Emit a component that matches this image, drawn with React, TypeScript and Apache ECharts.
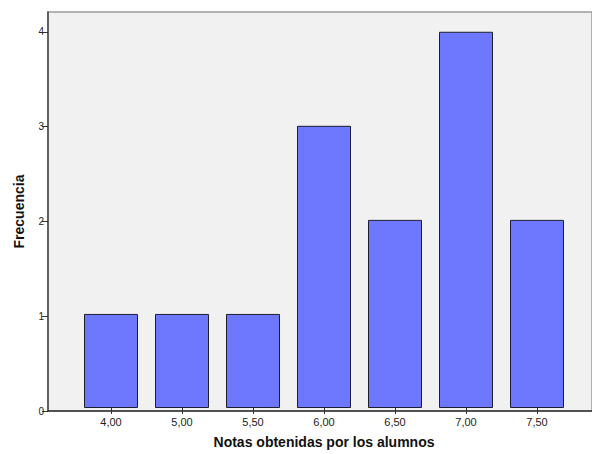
import React, { useEffect, useRef } from "react";
import * as echarts from "echarts";

const categories = ["4,00", "5,00", "5,50", "6,00", "6,50", "7,00", "7,50"];
const frequencies = [1, 1, 1, 3, 2, 4, 2];
const yTicks = [0, 1, 2, 3, 4];

export default function App() {
  const ref = useRef<HTMLDivElement>(null);
  useEffect(() => {
    if (!ref.current) return;
    const chart = echarts.init(ref.current, null, { renderer: "svg" });
    const font = "'Liberation Sans', Arial, sans-serif";
    chart.setOption({
      animation: false,
      backgroundColor: "#ffffff",
      textStyle: { fontFamily: font },
      grid: [
        {
          left: 48,
          right: 0,
          top: 12,
          bottom: 43,
          show: true,
          backgroundColor: "#f1f1f1",
          borderColor: "#9a9a9a",
          borderWidth: 1.5,
        },
        { left: 75.5, right: 19.5, top: 12, bottom: 43 },
      ],
      xAxis: [
        {
          type: "value",
          gridIndex: 0,
          min: 0,
          max: 1,
          axisLine: { show: true, lineStyle: { color: "#333", width: 1.5 } },
          axisTick: { show: false },
          axisLabel: { show: false },
          splitLine: { show: false },
        },
        {
          type: "category",
          gridIndex: 1,
          data: categories,
          axisLine: { show: false },
          axisTick: { show: true, alignWithLabel: true, length: 6, lineStyle: { color: "#333" } },
          axisLabel: { color: "#222", fontSize: 11, margin: 8, fontFamily: font },
          name: "Notas obtenidas por los alumnos",
          nameLocation: "middle",
          nameGap: 27,
          nameTextStyle: { fontSize: 14, fontWeight: "bold", color: "#111", fontFamily: font },
        },
      ],
      yAxis: [
        {
          type: "value",
          gridIndex: 0,
          min: 0,
          max: 4.21,
          axisLine: { show: true, lineStyle: { color: "#444", width: 1.5 } },
          axisTick: { show: true, length: 6, customValues: yTicks, lineStyle: { color: "#333" } },
          axisLabel: { color: "#222", fontSize: 10, margin: 4, customValues: yTicks, fontFamily: font },
          splitLine: { show: false },
          name: "Frecuencia",
          nameLocation: "middle",
          nameGap: 22,
          nameTextStyle: { fontSize: 14, fontWeight: "bold", color: "#111", fontFamily: font },
        },
        {
          type: "value",
          gridIndex: 1,
          min: 0,
          max: 4.21,
          show: false,
          splitLine: { show: false },
        },
      ],
      series: [
        {
          type: "bar",
          xAxisIndex: 1,
          yAxisIndex: 1,
          data: frequencies,
          barWidth: 54,
          itemStyle: { color: "#6e78ff", borderColor: "#1e1e30", borderWidth: 1 },
        },
      ],
    });
    return () => chart.dispose();
  }, []);
  return (
    <div
      ref={ref}
      style={{ position: "fixed", left: 0, top: 0, width: 592, height: 454 }}
    />
  );
}
